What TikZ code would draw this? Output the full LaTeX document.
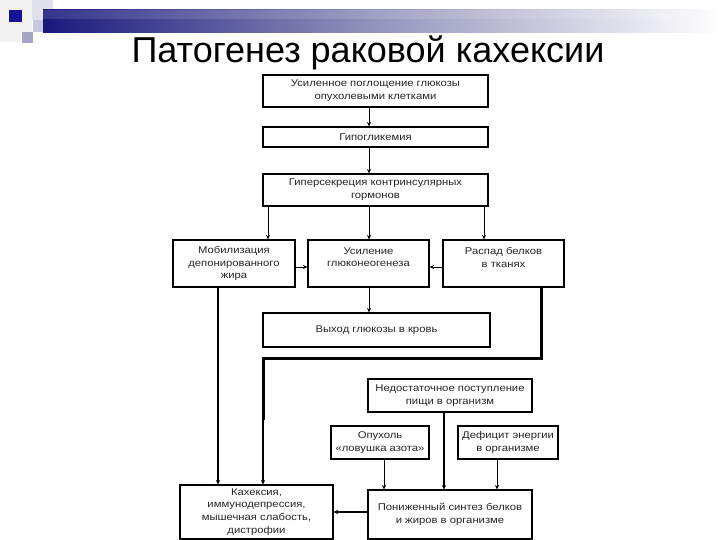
\documentclass[tikz,border=0pt]{standalone}
\usepackage{fontspec}
\setmainfont{Liberation Sans}
\newfontfamily\boxfont[FakeStretch=1.15]{Liberation Sans}
\usetikzlibrary{arrows.meta}
\definecolor{navy}{RGB}{25,25,125}
\definecolor{navysq}{RGB}{20,20,150}
\definecolor{midbar}{RGB}{150,150,190}
\definecolor{lav1}{RGB}{225,225,238}
\definecolor{lav2}{RGB}{165,165,200}
\definecolor{lav3}{RGB}{200,200,225}
\begin{document}
\begin{tikzpicture}[x=1pt,y=-1pt,
  box/.style={draw=black, line width=1.1pt, fill=white, inner sep=0pt, align=center,
    font=\boxfont\fontsize{9.8}{12.8}\selectfont, text=black!85},
  arr/.style={line width=0.9pt, -{Stealth[length=4.5pt,width=4pt]}},
  arrb/.style={line width=1.8pt, -{Stealth[length=4.5pt,width=4.5pt]}},
  heavy/.style={line width=3pt, line join=miter},
  heavyarr/.style={line width=2pt, -{Stealth[length=4.5pt,width=4.5pt]}},
]
\useasboundingbox (0,0) rectangle (720,540);
\fill[white] (0,0) rectangle (720,540);
% top decoration
\fill[black!5] (0,0) rectangle (32,42);
\fill[lav1] (32,0) rectangle (53,20);
\fill[lav2] (22,32) rectangle (33,43);
\fill[lav3] (33,20) rectangle (43,32);
\shade[left color=navy, right color=white, middle color=midbar] (43,10) rectangle (720,33);
\fill[white, opacity=0.12] (43,10) rectangle (720,19);
\fill[navysq] (9,10) rectangle (22,22);
% title
\node[font=\fontsize{36}{36}\selectfont, text=black, anchor=base, inner sep=0pt] (title) at (368,63) {Патогенез раковой кахексии};
% boxes
\node[box, minimum width=225pt, minimum height=32pt] (b1) at (375.5,91) {Усиленное поглощение глюкозы\\опухолевыми клетками};
\node[box, minimum width=225pt, minimum height=20pt] (b2) at (375.5,137) {Гипогликемия};
\node[box, minimum width=225pt, minimum height=32pt] (b3) at (375.5,190) {Гиперсекреция контринсулярных\\гормонов};
\node[box, minimum width=122pt, minimum height=47pt] (mob) at (234,263.5) {Мобилизация\\депонированного\\жира};
\node[box, minimum width=121pt, minimum height=47pt] (usil) at (368.5,263.5) {Усиление\\глюконеогенеза\\\mbox{}};
\node[box, minimum width=121pt, minimum height=47pt] (rasp) at (503.5,263.5) {Распад белков\\в тканях\\\mbox{}};
\node[box, minimum width=227pt, minimum height=34pt] (vyh) at (376.5,330) {Выход глюкозы в кровь};
\node[box, minimum width=164pt, minimum height=33pt] (ned) at (450,395.5) {Недостаточное поступление\\пищи в организм};
\node[box, minimum width=98pt, minimum height=33pt] (op) at (380,442.5) {Опухоль\\«ловушка азота»};
\node[box, minimum width=100pt, minimum height=33pt] (def) at (508,442.5) {Дефицит энергии\\в организме};
\node[box, minimum width=153pt, minimum height=54pt] (kah) at (256.5,512) {Кахексия,\\иммунодепрессия,\\мышечная слабость,\\дистрофии};
\node[box, minimum width=164pt, minimum height=49pt] (pon) at (450,514.5) {Пониженный синтез белков\\и жиров в организме};
% guide coordinates
\coordinate (cx369) at (369,0);
\coordinate (cx268) at (268,0);
\coordinate (cx484) at (484,0);
\coordinate (cx541) at (541,0);
\coordinate (cx263) at (263,0);
\coordinate (cx218) at (218,0);
\coordinate (cx384) at (384,0);
\coordinate (cx444) at (444,0);
\coordinate (cx497) at (497,0);
\coordinate (cy267) at (0,267);
\coordinate (cy358) at (0,358);
\coordinate (cy512) at (0,512);
\coordinate (cy420) at (0,420);
% connectors
\draw[arr] (b1.south -| cx369) -- (b2.north -| cx369);
\draw[arr] (b2.south -| cx369) -- (b3.north -| cx369);
\draw[arr] (b3.south -| cx268) -- (mob.north -| cx268);
\draw[arr] (b3.south -| cx369) -- (usil.north -| cx369);
\draw[arr] (b3.south -| cx484) -- (rasp.north -| cx484);
\draw[arr] (mob.east |- cy267) -- (usil.west |- cy267);
\draw[arr] (rasp.west |- cy267) -- (usil.east |- cy267);
\draw[arr] (usil.south -| cx369) -- (vyh.north -| cx369);
\draw[heavy] (rasp.south -| cx541) -- (cx541 |- cy358) -- (cx263 |- cy358) -- (cx263 |- cy420);
\draw[heavyarr] (cx263 |- cy358) -- (kah.north -| cx263);
\draw[heavyarr] (mob.south -| cx218) -- (kah.north -| cx218);
\draw[arr] (op.south -| cx384) -- (pon.north -| cx384);
\draw[arrb] (ned.south -| cx444) -- (pon.north -| cx444);
\draw[arr] (def.south -| cx497) -- (pon.north -| cx497);
\draw[arrb] (pon.west |- cy512) -- (kah.east |- cy512);
\end{tikzpicture}
\end{document}
